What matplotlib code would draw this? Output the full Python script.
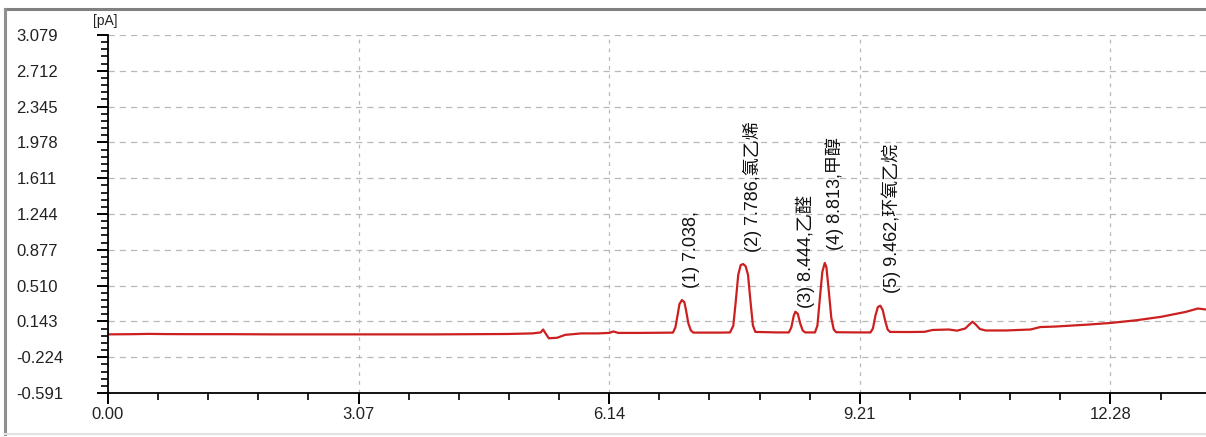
import matplotlib
matplotlib.use("Agg")
import matplotlib.pyplot as plt
from matplotlib.lines import Line2D

# chromatogram trace (time in min, signal in pA)
time = [0.00, 0.30, 0.50, 0.70, 1.00, 1.50, 2.00, 2.50, 3.00, 3.50, 4.00, 4.50,
        4.90, 5.20, 5.30, 5.33, 5.36, 5.40, 5.50, 5.60, 5.80, 6.00, 6.14, 6.19,
        6.25, 6.50, 6.80,
        6.92, 6.95, 6.98, 7.00, 7.03, 7.06, 7.08, 7.11, 7.14, 7.17,
        7.50, 7.62, 7.66, 7.69, 7.72, 7.75, 7.78, 7.81, 7.84, 7.87, 7.90, 7.93,
        8.20, 8.34, 8.37, 8.40, 8.42, 8.45, 8.48, 8.51, 8.54,
        8.66, 8.69, 8.72, 8.75, 8.78, 8.80, 8.83, 8.86, 8.89, 8.92,
        9.20, 9.34, 9.37, 9.40, 9.43, 9.46, 9.49, 9.52, 9.55, 9.58,
        9.80, 10.00, 10.10, 10.30, 10.40, 10.50, 10.55, 10.59,
        10.63, 10.68, 10.75, 11.00, 11.30, 11.42, 11.60, 12.00, 12.28, 12.60,
        12.90, 13.20, 13.35, 13.45]
signal = [0.010, 0.012, 0.015, 0.013, 0.012, 0.012, 0.010, 0.010, 0.010, 0.010,
          0.010, 0.012, 0.014, 0.020, 0.030, 0.060, 0.020, -0.030, -0.025, 0.005,
          0.020, 0.020, 0.025, 0.040, 0.025, 0.025, 0.027,
          0.028, 0.080, 0.220, 0.320, 0.362, 0.340, 0.260, 0.120, 0.050, 0.028,
          0.028, 0.030, 0.100, 0.350, 0.620, 0.720, 0.731, 0.710, 0.620, 0.350,
          0.100, 0.035,
          0.030, 0.030, 0.080, 0.200, 0.242, 0.220, 0.120, 0.050, 0.030,
          0.030, 0.100, 0.380, 0.650, 0.742, 0.700, 0.450, 0.180, 0.060, 0.032,
          0.030, 0.030, 0.070, 0.200, 0.290, 0.304, 0.260, 0.150, 0.060, 0.035,
          0.034, 0.036, 0.055, 0.060, 0.048, 0.070, 0.110, 0.140,
          0.110, 0.065, 0.050, 0.050, 0.060, 0.085, 0.090, 0.110, 0.127, 0.155,
          0.190, 0.240, 0.275, 0.265]

# peak labels
peak_t = [7.03, 7.78, 8.42, 8.78, 9.47]
peak_h = [0.362, 0.731, 0.242, 0.742, 0.304]
peak_labels = ["(1) 7.038,", "(2) 7.786,氯乙烯", "(3) 8.444,乙醛",
               "(4) 8.813,甲醇", "(5) 9.462,环氧乙烷"]

x_ticks = [0.00, 3.07, 6.14, 9.21, 12.28]
y_ticks = [-0.591, -0.224, 0.143, 0.510, 0.877, 1.244, 1.611, 1.978, 2.345, 2.712, 3.079]

W, H = 1206, 437
fig = plt.figure(figsize=(W / 100, H / 100), dpi=100)
ax = fig.add_axes([108 / W, 1 - 393 / H, 1 - 108 / W, (393 - 35) / H])

ax.plot(time, signal, color="#cc1f1f", lw=1.6)

ax.set_xlim(0, 13.45)
ax.set_ylim(-0.591, 3.079)
ax.set_xticks(x_ticks)
ax.set_xticklabels(["%.2f" % v for v in x_ticks])
ax.set_xticks([v for v in [i * 0.614 for i in range(22)] if v < 13.45], minor=True)
ax.set_yticks(y_ticks)
ax.set_yticklabels(["%.3f" % v for v in y_ticks])
ax.set_yticks([-0.591 + i * 0.0734 for i in range(51)], minor=True)

for s in ["top", "right"]:
    ax.spines[s].set_visible(False)
ax.spines["left"].set_linewidth(1.3)
ax.spines["bottom"].set_linewidth(1.3)

ax.tick_params(which="major", direction="out", length=8, width=1.4, colors="black",
               labelsize=12, labelcolor="#222222")
ax.tick_params(which="minor", direction="out", length=5, width=1.2)
ax.tick_params(axis="x", pad=2)
ax.tick_params(axis="y", pad=58)
for lab in ax.get_yticklabels():
    lab.set_ha("left")
for lab in ax.get_xticklabels() + ax.get_yticklabels():
    lab.set_family("Liberation Sans")

ax.grid(axis="y", which="major", color="#b8b8b8", ls=(0, (5, 4)), lw=0.9)
ax.grid(axis="x", which="major", color="#b8b8b8", ls=(0, (3, 4)), lw=0.9)
ax.set_axisbelow(True)

# peak annotations
for i in range(len(peak_t)):
    dy = 3 if i == 2 else 9
    ax.annotate(peak_labels[i], xy=(peak_t[i], peak_h[i]), xytext=(7, dy),
                textcoords="offset points", rotation=90, ha="center", va="bottom",
                fontsize=13, color="#111111",
                family=["Liberation Sans", "Noto Sans CJK SC"])

fig.text(105 / W, 1 - 21 / H, "[pA]", fontsize=10, family="Liberation Sans",
         ha="center", va="center", color="#222222")

# outer frame of the instrument window
fig.add_artist(Line2D([5 / W, 1], [1 - 9 / H, 1 - 9 / H], transform=fig.transFigure,
                      color="#808080", lw=2.2))
fig.add_artist(Line2D([5 / W, 5 / W], [1 - 9 / H, 1 - 434 / H], transform=fig.transFigure,
                      color="#909090", lw=2.2))
fig.add_artist(Line2D([5 / W, 1], [1 - 434 / H, 1 - 434 / H], transform=fig.transFigure,
                      color="#e2e2e2", lw=1.5))

fig.savefig("out.png", dpi=100)
